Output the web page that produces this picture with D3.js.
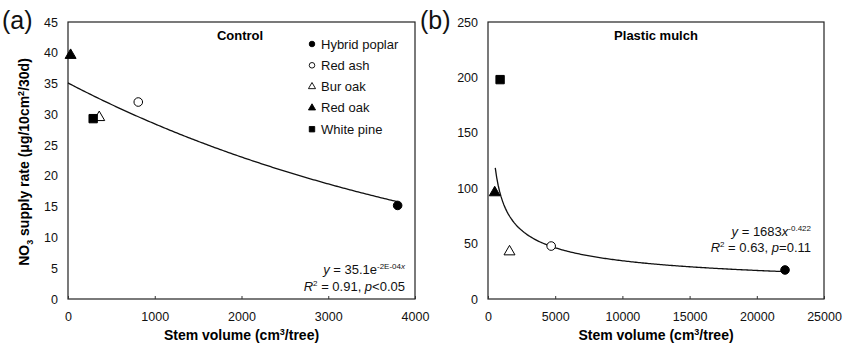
<!DOCTYPE html>
<html>
<head>
<meta charset="utf-8">
<script src="https://cdn.jsdelivr.net/npm/d3@7"></script>
<style>
  body { margin: 0; background: #fff; }
  svg { display: block; font-family: Arial, "Liberation Sans", sans-serif; }
</style>
</head>
<body>
<div id="chart"></div>
<script>
// species, in legend order
const species = ["Hybrid poplar", "Red ash", "Bur oak", "Red oak", "White pine"];
const shapes = ["circle", "circle", "triangle", "triangle", "square"];
const filled = [true, false, false, true, true];

// (a) control
const controlX = [3800, 810, 360, 30, 290];
const controlY = [15.2, 32.0, 29.5, 39.6, 29.3];
// (b) plastic mulch
const mulchX = [22100, 4700, 1600, 500, 900];
const mulchY = [26.2, 47.8, 42.7, 96.0, 198.0];

// trend lines
const expFit = {a: 35.1, k: 2.1e-4, from: 0, to: 3800};
const powFit = {a: 1683, b: -0.422, from: 540, to: 22100};

const xTicksA = [0, 1000, 2000, 3000, 4000];
const yTicksA = [0, 5, 10, 15, 20, 25, 30, 35, 40, 45];
const xTicksB = [0, 5000, 10000, 15000, 20000, 25000];
const yTicksB = [0, 50, 100, 150, 200, 250];

const width = 846, height = 345;

const svg = d3.select("#chart").append("svg")
  .attr("width", width)
  .attr("height", height);

const symbolType = {circle: d3.symbolCircle, triangle: d3.symbolTriangle, square: d3.symbolSquare};
const symbolSize = {circle: 58, triangle: 52, square: 70};

function panel(opts) {
  const x = d3.scaleLinear().domain(opts.xDomain).range([opts.left, opts.right]);
  const y = d3.scaleLinear().domain(opts.yDomain).range([opts.bottom, opts.top]);
  const g = svg.append("g");

  // frame
  g.append("rect")
    .attr("x", opts.left).attr("y", opts.top)
    .attr("width", opts.right - opts.left).attr("height", opts.bottom - opts.top)
    .attr("fill", "none").attr("stroke", "#222").attr("stroke-width", 1.2);

  // x axis, ticks pointing inward
  const xAxis = g.append("g")
    .attr("transform", `translate(0,${opts.bottom})`)
    .call(d3.axisBottom(x).tickValues(opts.xTicks).tickSize(0).tickPadding(13).tickFormat(d3.format("d")));
  xAxis.select(".domain").remove();
  xAxis.selectAll(".tick line").attr("y2", -3).attr("stroke", "#333");
  xAxis.selectAll(".tick text").attr("font-size", 12.5).attr("fill", "#111").attr("font-family", null);

  const yAxis = g.append("g")
    .attr("transform", `translate(${opts.left},0)`)
    .call(d3.axisLeft(y).tickValues(opts.yTicks).tickSize(0).tickPadding(10));
  yAxis.select(".domain").remove();
  yAxis.selectAll(".tick text").attr("font-size", 12.5).attr("fill", "#111").attr("font-family", null);

  // trend line
  g.append("path")
    .datum(d3.range(0, 201).map(i => opts.fit.from + (opts.fit.to - opts.fit.from) * i / 200))
    .attr("fill", "none").attr("stroke", "#111").attr("stroke-width", 1.3)
    .attr("d", d3.line().x(d => x(d)).y(d => y(opts.fitFn(d))));

  // points
  g.selectAll(".pt")
    .data(species.map((s, i) => ({s, i, vx: opts.xs[i], vy: opts.ys[i]})))
    .join("path")
    .attr("transform", d => `translate(${x(d.vx)},${y(d.vy)})`)
    .attr("d", d => d3.symbol(symbolType[shapes[d.i]], symbolSize[shapes[d.i]])())
    .attr("fill", d => filled[d.i] ? "#000" : "#fff")
    .attr("stroke", "#000").attr("stroke-width", 1);

  // panel title
  g.append("text")
    .attr("x", opts.titleX).attr("y", 40)
    .attr("text-anchor", "middle").attr("font-size", 13).attr("font-weight", "bold")
    .text(opts.title);

  // panel letter
  g.append("text")
    .attr("x", opts.letterX).attr("y", 29)
    .attr("font-size", 25).attr("fill", "#111")
    .text(opts.letter);

  // x axis title
  const xt = g.append("text")
    .attr("x", (opts.left + opts.right) / 2).attr("y", 340)
    .attr("text-anchor", "middle").attr("font-size", 14).attr("font-weight", "bold");
  xt.append("tspan").text("Stem volume (cm");
  xt.append("tspan").attr("dy", -5).attr("font-size", 9).text("3");
  xt.append("tspan").attr("dy", 5).text("/tree)");

  return {x, y, g};
}

const A = panel({
  left: 68, right: 415, top: 22, bottom: 299,
  xDomain: [0, 4000], yDomain: [0, 45], xTicks: xTicksA, yTicks: yTicksA,
  xs: controlX, ys: controlY,
  fit: expFit, fitFn: v => expFit.a * Math.exp(-expFit.k * v),
  title: "Control", titleX: 240, letter: "(a)", letterX: 2
});

const B = panel({
  left: 488, right: 824, top: 22, bottom: 299,
  xDomain: [0, 25000], yDomain: [0, 250], xTicks: xTicksB, yTicks: yTicksB,
  xs: mulchX, ys: mulchY,
  fit: powFit, fitFn: v => powFit.a * Math.pow(v, powFit.b),
  title: "Plastic mulch", titleX: 656, letter: "(b)", letterX: 420
});

// y axis title
const yt = svg.append("text")
  .attr("transform", "translate(29,162) rotate(-90)")
  .attr("text-anchor", "middle").attr("font-size", 14).attr("font-weight", "bold");
yt.append("tspan").text("NO");
yt.append("tspan").attr("dy", 4).attr("font-size", 9).text("3");
yt.append("tspan").attr("dy", -4).text(" supply rate (μg/10cm");
yt.append("tspan").attr("dy", -5).attr("font-size", 9).text("2");
yt.append("tspan").attr("dy", 5).text("/30d)");

// legend in panel (a)
const legend = A.g.append("g");
legend.selectAll("path")
  .data(species.map((s, i) => ({s, i})))
  .join("path")
  .attr("transform", d => `translate(312,${44 + d.i * 21.3})`)
  .attr("d", d => d3.symbol(symbolType[shapes[d.i]], symbolSize[shapes[d.i]] * 0.42)())
  .attr("fill", d => filled[d.i] ? "#000" : "#fff")
  .attr("stroke", "#000").attr("stroke-width", 0.9);
legend.selectAll("text")
  .data(species)
  .join("text")
  .attr("x", 321).attr("y", (d, i) => 48.5 + i * 21.3)
  .attr("font-size", 13).attr("fill", "#111")
  .text(d => d);

// equations
function eqLines(g, xRight, y1, parts1, line2) {
  const t1 = g.append("text").attr("x", xRight).attr("y", y1)
    .attr("text-anchor", "end").attr("font-size", 13).attr("fill", "#111");
  parts1(t1);
  const t2 = g.append("text").attr("x", xRight).attr("y", y1 + 16.5)
    .attr("text-anchor", "end").attr("font-size", 13).attr("fill", "#111");
  t2.append("tspan").attr("font-style", "italic").text("R");
  t2.append("tspan").attr("dy", -5).attr("font-size", 8).text("2");
  t2.append("tspan").attr("dy", 5).text(` = ${line2[0]}, `);
  t2.append("tspan").attr("font-style", "italic").text("p");
  t2.append("tspan").text(line2[1]);
}

eqLines(A.g, 405, 274, t => {
  t.append("tspan").attr("font-style", "italic").text("y");
  t.append("tspan").text(" = 35.1e");
  t.append("tspan").attr("dy", -5).attr("font-size", 8).text("-2E-04");
  t.append("tspan").attr("font-size", 8).attr("font-style", "italic").text("x");
}, ["0.91", "<0.05"]);

eqLines(B.g, 811, 235.5, t => {
  t.append("tspan").attr("font-style", "italic").text("y");
  t.append("tspan").text(" = 1683");
  t.append("tspan").attr("font-style", "italic").text("x");
  t.append("tspan").attr("dy", -5).attr("font-size", 8).text("-0.422");
}, ["0.63", "=0.11"]);
</script>
</body>
</html>
